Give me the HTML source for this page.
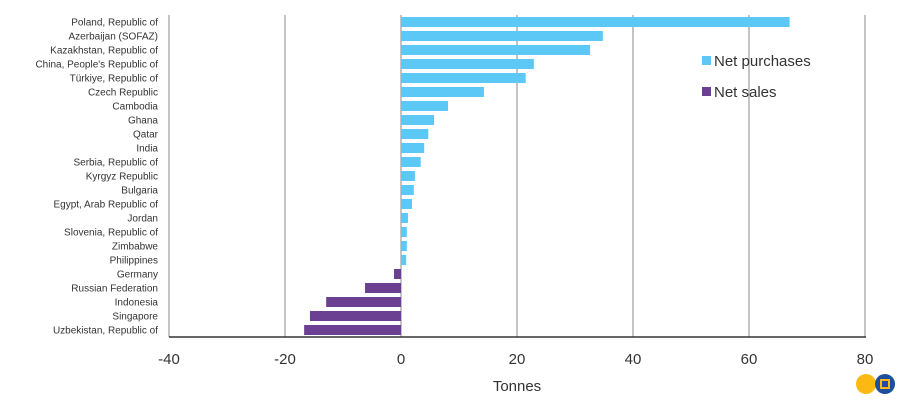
<!DOCTYPE html>
<html><head><meta charset="utf-8"><style>
body{margin:0;background:#fff;width:900px;height:400px;overflow:hidden;font-family:"Liberation Sans",sans-serif}
</style></head><body>
<svg id="chart" width="900" height="400" xmlns="http://www.w3.org/2000/svg"></svg>
<script>
const categories=["Poland, Republic of","Azerbaijan (SOFAZ)","Kazakhstan, Republic of","China, People's Republic of","Türkiye, Republic of","Czech Republic","Cambodia","Ghana","Qatar","India","Serbia, Republic of","Kyrgyz Republic","Bulgaria","Egypt, Arab Republic of","Jordan","Slovenia, Republic of","Zimbabwe","Philippines","Germany","Russian Federation","Indonesia","Singapore","Uzbekistan, Republic of"];
const values=[67,34.8,32.6,22.9,21.5,14.3,8.1,5.7,4.7,4.0,3.4,2.4,2.2,1.9,1.2,1.0,1.0,0.9,-1.2,-6.2,-12.9,-15.7,-16.7];
const xTicks=[-40,-20,0,20,40,60,80];
const svg=document.getElementById('chart');
const NS='http://www.w3.org/2000/svg';
const x0=169,x1=865,yTop=15,yBottom=337,vmin=-40,vmax=80;
const xs=v=>x0+(v-vmin)/(vmax-vmin)*(x1-x0);
const band=(yBottom-yTop)/categories.length;
const yc=i=>yTop+band*(i+0.5);
function mk(t,a){const e=document.createElementNS(NS,t);for(const k in a)e.setAttribute(k,a[k]);svg.appendChild(e);return e;}
xTicks.forEach(t=>{
 const l=mk('line',{x1:xs(t),x2:xs(t),y1:yTop,y2:yBottom,stroke:'#b0b0b0','stroke-width':1.5});
 
 
 const tx=mk('text',{x:xs(t),y:364,'text-anchor':'middle','font-size':15,fill:'#333'});
 tx.textContent=t;
 
 
});
const ax=mk('line',{x1:x0,x2:x1+1,y1:yBottom,y2:yBottom,stroke:'#333','stroke-width':1.5});


categories.forEach((c,i)=>{
 const v=values[i];
 const r=mk('rect',{x:Math.min(xs(0),xs(v)),y:yc(i)-5,width:Math.abs(xs(v)-xs(0)),height:10,fill:v>=0?'#5bc8f5':'#6b3f92'});
 
 
 const t=mk('text',{x:158,y:yc(i)+3.5,'text-anchor':'end','font-size':10,fill:'#333'});
 t.textContent=c;
 
 
});
const xt=mk('text',{x:517,y:391,'text-anchor':'middle','font-size':15,fill:'#333'});
xt.textContent='Tonnes';


[['Net purchases','#5bc8f5',62],['Net sales','#6b3f92',93]].forEach(([n,c,y])=>{
 const s=mk('rect',{x:702,y:y-6,width:9,height:9,fill:c});
 
 
 const t=mk('text',{x:714,y:y+4,'font-size':15,fill:'#333'});
 t.textContent=n;
 
 
});
const c1=mk('circle',{cx:866,cy:384,r:10,fill:'#fdb913'});


const c2=mk('circle',{cx:885,cy:384,r:10,fill:'#1f4e9c'});


const c3=mk('rect',{x:881,y:380,width:8,height:8,fill:'none',stroke:'#fdb913','stroke-width':2});


</script>
</body></html>
